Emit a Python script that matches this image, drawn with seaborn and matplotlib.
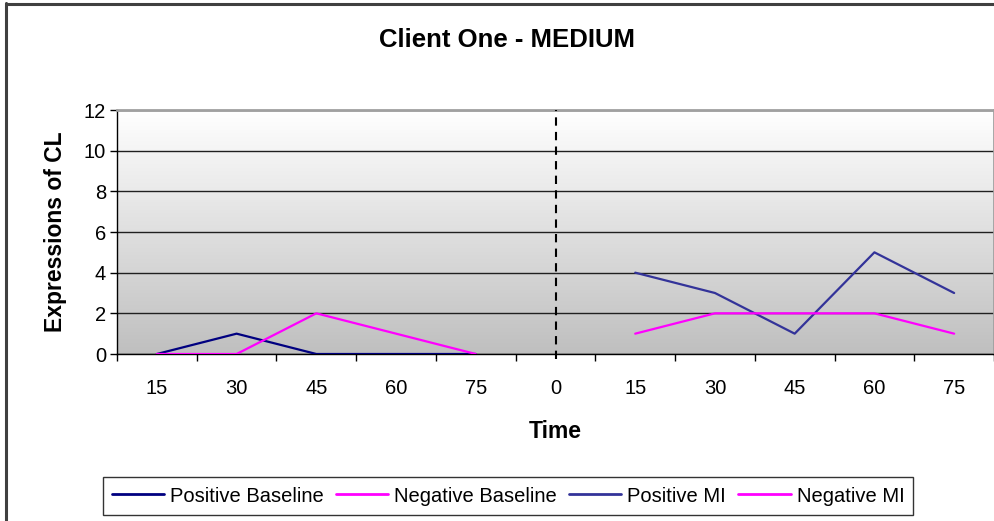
import numpy as np
import pandas as pd
import matplotlib
matplotlib.use("Agg")
import matplotlib.pyplot as plt
import seaborn as sns
from matplotlib.lines import Line2D

sns.set_theme(style="white")
plt.rcParams["font.family"] = ["Liberation Sans", "DejaVu Sans"]
plt.rcParams["text.color"] = "black"
plt.rcParams["axes.labelcolor"] = "black"
plt.rcParams["xtick.color"] = "black"
plt.rcParams["ytick.color"] = "black"

# Session minutes: baseline block, divider at 0, then MI block
time_labels = ["15", "30", "45", "60", "75", "0", "15", "30", "45", "60", "75"]
positive_baseline = [0, 1, 0, 0, 0, np.nan, np.nan, np.nan, np.nan, np.nan, np.nan]
negative_baseline = [0, 0, 2, 1, 0, np.nan, np.nan, np.nan, np.nan, np.nan, np.nan]
positive_mi = [np.nan, np.nan, np.nan, np.nan, np.nan, np.nan, 4, 3, 1, 5, 3]
negative_mi = [np.nan, np.nan, np.nan, np.nan, np.nan, np.nan, 1, 2, 2, 2, 1]
divider_label = "0"

series = {
    "Positive Baseline": (positive_baseline, "#000080"),
    "Negative Baseline": (negative_baseline, "#FF00FF"),
    "Positive MI": (positive_mi, "#333399"),
    "Negative MI": (negative_mi, "#FF00FF"),
}

pos = np.arange(len(time_labels))

fig = plt.figure(figsize=(9.95, 5.21), dpi=100)
fig.patch.set_facecolor("white")

# outer chart frame (left and top edges)
fig.add_artist(Line2D([6.5 / 995, 6.5 / 995], [0, 1 - 3 / 521], color="#404040", lw=2.2,
                      transform=fig.transFigure))
fig.add_artist(Line2D([6.5 / 995, 1], [1 - 3.5 / 521, 1 - 3.5 / 521], color="#404040", lw=2.2,
                      transform=fig.transFigure))

ax = fig.add_axes([117 / 995, 167 / 521, 877 / 995, 244 / 521])

# vertical gradient background: white at top to grey at bottom
grad = np.linspace(1.0, 0.75, 256).reshape(-1, 1)
ax.imshow(np.dstack([grad, grad, grad]), extent=[0, 1, 0, 1], transform=ax.transAxes,
          aspect="auto", zorder=0, interpolation="bilinear")

for name, (vals, color) in series.items():
    df = pd.DataFrame({"pos": pos, "val": vals}).dropna()
    sns.lineplot(data=df, x="pos", y="val", ax=ax, color=color, lw=1.6, sort=False,
                 label=name, legend=False, zorder=3)

ax.set_xlim(-0.5, len(time_labels) - 0.5)
ax.set_ylim(0, 12)
ax.set_yticks(np.arange(0, 13, 2))
ax.yaxis.grid(True, color="#202020", lw=1.0, zorder=1)
ax.set_axisbelow(True)

# category labels at centres, tick marks at category boundaries
ax.set_xticks(pos)
ax.set_xticklabels(time_labels, fontsize=14.5)
ax.set_xticks(np.arange(-0.5, len(time_labels), 1), minor=True)
ax.tick_params(axis="x", which="major", length=0, pad=18)
ax.tick_params(axis="x", which="minor", length=5, width=1, color="black", direction="out", bottom=True)
ax.tick_params(axis="y", which="major", length=5, width=1, color="black", direction="out",
               left=True, labelsize=14.5, pad=3)

for side in ["top", "right"]:
    ax.spines[side].set_color("#a0a0a0")
    ax.spines[side].set_linewidth(2)
for side in ["left", "bottom"]:
    ax.spines[side].set_color("black")
    ax.spines[side].set_linewidth(1)

# dashed phase divider
div_x = time_labels.index(divider_label)
ax.plot([div_x, div_x], [-0.25, 12], color="black", lw=1.5, ls=(0, (4, 3)),
        clip_on=False, zorder=4)

ax.set_xlabel("Time", fontsize=16.5, fontweight="bold", labelpad=16)
ax.set_ylabel("Expressions of CL", fontsize=16.5, fontweight="bold", labelpad=12)

fig.text(507 / 995, 1 - 40 / 521, "Client One - MEDIUM", ha="center", va="center",
         fontsize=18.5, fontweight="bold")

handles, labels = ax.get_legend_handles_labels()
leg = fig.legend(handles, labels, loc="center", bbox_to_anchor=(508 / 995, 1 - 496 / 521),
                 ncol=4, frameon=True, fancybox=False, fontsize=14.5, handlelength=2.6,
                 handletextpad=0.3, columnspacing=0.6, borderpad=0.45, borderaxespad=0)
leg.get_frame().set_edgecolor("black")
leg.get_frame().set_linewidth(1)
for line in leg.get_lines():
    line.set_linewidth(2)

fig.savefig("out.png", dpi=100)
